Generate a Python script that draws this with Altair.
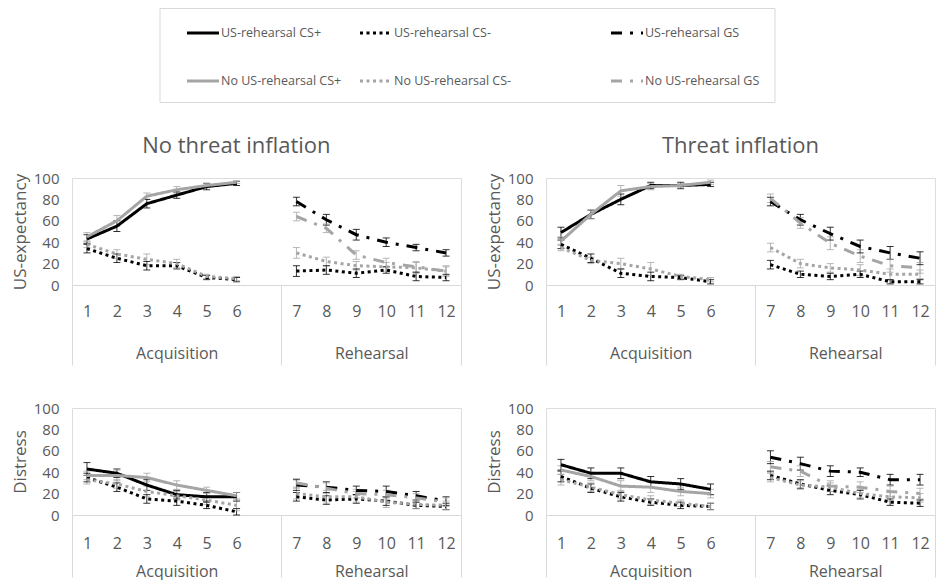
import altair as alt
import pandas as pd

FONT = "Open Sans"
TXT = "#595959"
RULE = "#d9d9d9"
BLACK = "#000000"
GRAY = "#a5a5a5"

GROUPS = ["US-rehearsal", "No US-rehearsal"]
STIMS = ["CS+", "CS-", "GS"]
ACQ_TRIALS = [1, 2, 3, 4, 5, 6]
REH_TRIALS = [7, 8, 9, 10, 11, 12]
CSM_TRIALS = ACQ_TRIALS + REH_TRIALS
Y_TICKS = [0, 20, 40, 60, 80, 100]
PHASES = ["Acquisition", "Rehearsal"]
COL_TITLES = ["No threat inflation", "Threat inflation"]
ROW_TITLES = ["US-expectancy", "Distress"]
LEGEND_LABELS = [
    ["US-rehearsal  CS+", "US-rehearsal CS-", "US-rehearsal GS"],
    ["No US-rehearsal CS+", "No US-rehearsal CS-", "No US-rehearsal  GS"],
]

# ---- US-expectancy, No threat inflation ----
exp_nt_us_csp = [43, 55, 76, 84, 92, 95]
exp_nt_no_csp = [45, 60, 83, 89, 93, 96]
exp_nt_us_csm = [34, 25, 18, 18, 7, 5, 13, 14, 11, 14, 8, 7]
exp_nt_no_csm = [38, 29, 24, 20, 8, 6, 30, 22, 18, 17, 16, 13]
exp_nt_us_gs = [78, 61, 47, 40, 35, 30]
exp_nt_no_gs = [64, 53, 28, 21, 17, 13]
exp_nt_us_csp_e = [4, 5, 4, 3, 3, 2]
exp_nt_no_csp_e = [4, 5, 3, 3, 2, 1]
exp_nt_us_csm_e = [4, 4, 4, 3, 2, 2, 5, 4, 4, 3, 4, 3]
exp_nt_no_csm_e = [3, 4, 5, 4, 2, 2, 5, 4, 4, 4, 5, 4]
exp_nt_us_gs_e = [4, 5, 5, 4, 3, 3]
exp_nt_no_gs_e = [4, 4, 4, 4, 5, 5]

# ---- US-expectancy, Threat inflation ----
exp_t_us_csp = [49, 66, 80, 93, 93, 94]
exp_t_no_csp = [41, 66, 88, 92, 93, 96]
exp_t_us_csm = [38, 25, 11, 8, 7, 3, 19, 10, 8, 10, 3, 3]
exp_t_no_csm = [35, 23, 20, 15, 8, 5, 35, 20, 16, 14, 10, 10]
exp_t_us_gs = [78, 61, 48, 36, 30, 25]
exp_t_no_gs = [81, 58, 39, 27, 18, 16]
exp_t_us_csp_e = [5, 4, 5, 3, 3, 2]
exp_t_no_csp_e = [4, 4, 5, 3, 2, 2]
exp_t_us_csm_e = [4, 4, 4, 4, 2, 2, 4, 3, 3, 3, 2, 2]
exp_t_no_csm_e = [3, 3, 5, 6, 2, 2, 4, 4, 4, 5, 5, 4]
exp_t_us_gs_e = [4, 5, 6, 6, 6, 6]
exp_t_no_gs_e = [4, 5, 6, 6, 6, 5]

# ---- Distress, No threat inflation ----
dis_nt_us_csp = [43, 39, 28, 19, 17, 17]
dis_nt_no_csp = [37, 37, 35, 28, 23, 18]
dis_nt_us_csm = [35, 26, 15, 13, 9, 3, 17, 14, 15, 13, 9, 8]
dis_nt_no_csm = [33, 29, 22, 18, 14, 9, 20, 17, 17, 12, 10, 9]
dis_nt_us_gs = [28, 26, 23, 22, 18, 13]
dis_nt_no_gs = [30, 25, 20, 19, 16, 12]
dis_nt_us_csp_e = [6, 4, 5, 4, 4, 4]
dis_nt_no_csp_e = [4, 5, 4, 4, 3, 3]
dis_nt_us_csm_e = [4, 4, 4, 4, 3, 3, 4, 4, 4, 4, 3, 3]
dis_nt_no_csm_e = [4, 4, 5, 4, 4, 5, 5, 6, 5, 5, 4, 4]
dis_nt_us_gs_e = [5, 5, 4, 5, 4, 4]
dis_nt_no_gs_e = [4, 5, 4, 4, 4, 4]

# ---- Distress, Threat inflation ----
dis_t_us_csp = [47, 39, 39, 31, 29, 24]
dis_t_no_csp = [42, 36, 27, 26, 22, 20]
dis_t_us_csm = [36, 25, 17, 12, 9, 8, 37, 29, 23, 19, 12, 11]
dis_t_no_csm = [33, 26, 19, 14, 11, 8, 35, 28, 26, 20, 17, 16]
dis_t_us_gs = [54, 48, 41, 40, 33, 33]
dis_t_no_gs = [45, 41, 27, 26, 22, 20]
dis_t_us_csp_e = [5, 5, 5, 5, 5, 5]
dis_t_no_csp_e = [4, 4, 5, 5, 4, 4]
dis_t_us_csm_e = [5, 4, 4, 3, 3, 3, 4, 4, 4, 4, 3, 3]
dis_t_no_csm_e = [5, 4, 4, 4, 3, 3, 4, 4, 4, 4, 4, 4]
dis_t_us_gs_e = [6, 6, 5, 4, 5, 5]
dis_t_no_gs_e = [5, 5, 5, 5, 5, 5]

# ---- styles / layout ----
DASHES = [[1, 0], [3, 3.5], [11, 8, 3, 8]]
PW, PH = 389, 107


def series_rows(group, stim, trials, vals, errs):
    rows = []
    for t, v, e in zip(trials, vals, errs):
        phase = PHASES[0] if t <= 6 else PHASES[1]
        rows.append(dict(group=group, stim=stim, trial=t,
                         pos=t if t <= 6 else t + 1,
                         val=v, lo=max(v - e, 0), hi=min(v + e, 100),
                         seg=f"{group}|{stim}|{phase}"))
    return rows


def panel_df(us_csp, us_csm, us_gs, no_csp, no_csm, no_gs,
             us_csp_e, us_csm_e, us_gs_e, no_csp_e, no_csm_e, no_gs_e):
    rows = []
    rows += series_rows(GROUPS[0], STIMS[0], ACQ_TRIALS, us_csp, us_csp_e)
    rows += series_rows(GROUPS[0], STIMS[1], CSM_TRIALS, us_csm, us_csm_e)
    rows += series_rows(GROUPS[0], STIMS[2], REH_TRIALS, us_gs, us_gs_e)
    rows += series_rows(GROUPS[1], STIMS[0], ACQ_TRIALS, no_csp, no_csp_e)
    rows += series_rows(GROUPS[1], STIMS[1], CSM_TRIALS, no_csm, no_csm_e)
    rows += series_rows(GROUPS[1], STIMS[2], REH_TRIALS, no_gs, no_gs_e)
    return pd.DataFrame(rows)


def make_panel(df, ytitle, title, title_frame, tick_pad, grp_pad, box_len):
    xs = alt.Scale(domain=[0.5, 13.5], nice=False, zero=False)
    ys = alt.Scale(domain=[0, 100], nice=False)
    color = alt.Color("group:N", scale=alt.Scale(domain=GROUPS, range=[BLACK, GRAY]), legend=None)
    dash = alt.StrokeDash("stim:N", scale=alt.Scale(domain=STIMS, range=DASHES), legend=None)
    y_axis = alt.Axis(orient="left", values=Y_TICKS, grid=False, domain=False, ticks=False,
                      labelFont=FONT, labelFontSize=15, labelColor=TXT, labelPadding=13,
                      title=ytitle, titleFont=FONT, titleFontSize=17, titleFontWeight="normal",
                      titleColor=TXT, titlePadding=4)
    ax_num = alt.Axis(orient="bottom", values=[1, 2, 3, 4, 5, 6, 8, 9, 10, 11, 12, 13],
                      labelExpr="datum.value <= 6 ? datum.value : datum.value - 1",
                      ticks=False, domain=True, domainColor=RULE, domainWidth=1, grid=False,
                      labelFont=FONT, labelFontSize=16, labelColor=TXT, labelPadding=tick_pad,
                      labelFlush=False, labelOverlap=False, labelBound=False, title=None)
    ax_box = alt.Axis(orient="bottom", values=[0.5, 7.5, 13.5], labels=False, ticks=True,
                      tickSize=box_len, tickColor=RULE, tickWidth=1, domain=False, grid=False,
                      title=None)
    ax_grp = alt.Axis(orient="bottom", values=[4, 10.5],
                      labelExpr=f"datum.value < 7 ? '{PHASES[0]}' : '{PHASES[1]}'",
                      ticks=False, domain=False, grid=False,
                      labelFont=FONT, labelFontSize=16, labelColor=TXT, labelPadding=grp_pad,
                      labelFlush=False, labelOverlap=False, labelBound=False, title=None)

    caps_df = pd.concat([df.assign(cap=df["lo"]), df.assign(cap=df["hi"])], ignore_index=True)

    bars = alt.Chart(df).mark_rule(strokeWidth=1, opacity=0.8).encode(
        x=alt.X("pos:Q", scale=xs, axis=ax_box),
        y=alt.Y("lo:Q", scale=ys, axis=y_axis),
        y2="hi:Q",
        color=color,
    )
    caps = alt.Chart(caps_df).mark_tick(orient="horizontal", size=7, thickness=1, opacity=0.8).encode(
        x=alt.X("pos:Q", scale=xs, axis=ax_grp),
        y=alt.Y("cap:Q", scale=ys, axis=y_axis),
        color=color,
    )
    lines = alt.Chart(df).mark_line(strokeWidth=3).encode(
        x=alt.X("pos:Q", scale=xs, axis=ax_num),
        y=alt.Y("val:Q", scale=ys, axis=y_axis),
        color=color,
        strokeDash=dash,
        detail="seg:N",
        order="pos:Q",
    )
    layer = alt.layer(bars, caps, lines).resolve_axis(x="independent").properties(width=PW, height=PH)
    if title:
        layer = layer.properties(title=alt.Title(title, font=FONT, fontSize=22, fontWeight="normal",
                                                 color=TXT, anchor="middle", frame=title_frame,
                                                 offset=13))
    return layer


df_exp_nt = panel_df(exp_nt_us_csp, exp_nt_us_csm, exp_nt_us_gs, exp_nt_no_csp, exp_nt_no_csm, exp_nt_no_gs,
                     exp_nt_us_csp_e, exp_nt_us_csm_e, exp_nt_us_gs_e, exp_nt_no_csp_e, exp_nt_no_csm_e, exp_nt_no_gs_e)
df_exp_t = panel_df(exp_t_us_csp, exp_t_us_csm, exp_t_us_gs, exp_t_no_csp, exp_t_no_csm, exp_t_no_gs,
                    exp_t_us_csp_e, exp_t_us_csm_e, exp_t_us_gs_e, exp_t_no_csp_e, exp_t_no_csm_e, exp_t_no_gs_e)
df_dis_nt = panel_df(dis_nt_us_csp, dis_nt_us_csm, dis_nt_us_gs, dis_nt_no_csp, dis_nt_no_csm, dis_nt_no_gs,
                     dis_nt_us_csp_e, dis_nt_us_csm_e, dis_nt_us_gs_e, dis_nt_no_csp_e, dis_nt_no_csm_e, dis_nt_no_gs_e)
df_dis_t = panel_df(dis_t_us_csp, dis_t_us_csm, dis_t_us_gs, dis_t_no_csp, dis_t_no_csm, dis_t_no_gs,
                    dis_t_us_csp_e, dis_t_us_csm_e, dis_t_us_gs_e, dis_t_no_csp_e, dis_t_no_csm_e, dis_t_no_gs_e)

tl = make_panel(df_exp_nt, ROW_TITLES[0], COL_TITLES[0], "bounds", 18, 60, 80)
tr = make_panel(df_exp_t, ROW_TITLES[0], COL_TITLES[1], "group", 18, 60, 80)
bl = make_panel(df_dis_nt, ROW_TITLES[1], None, None, 20, 48, 62)
br = make_panel(df_dis_t, ROW_TITLES[1], None, None, 20, 48, 62)

# ---- legend (custom, boxed; pixel layout inside the legend view) ----
LEG_W, LEG_H = 800, 95
LEG_BOX = (88, 703, 0.5, 94.5)
LEG_COL_X = [115, 288, 539]
LEG_ROW_Y = [25, 73]
LEG_SAMPLE = 32
leg_rows = []
for gi, g in enumerate(GROUPS):
    for si, s in enumerate(STIMS):
        leg_rows.append(dict(group=g, stim=s, label=LEGEND_LABELS[gi][si],
                             x0=LEG_COL_X[si], x1=LEG_COL_X[si] + LEG_SAMPLE,
                             tx=LEG_COL_X[si] + LEG_SAMPLE + 2, y=LEG_ROW_Y[gi]))
leg_df = pd.DataFrame(leg_rows)
box_df = pd.DataFrame([dict(bx0=LEG_BOX[0], bx1=LEG_BOX[1], by0=LEG_BOX[2], by1=LEG_BOX[3])])
leg_color = alt.Color("group:N", scale=alt.Scale(domain=GROUPS, range=[BLACK, GRAY]), legend=None)
leg_dash = alt.StrokeDash("stim:N", scale=alt.Scale(domain=STIMS, range=DASHES), legend=None)
leg_box = alt.Chart(box_df).mark_rect(fill="transparent", stroke=RULE, strokeWidth=1).encode(
    x=alt.X("bx0:Q", scale=None, axis=None), x2="bx1:Q",
    y=alt.Y("by0:Q", scale=None, axis=None), y2="by1:Q",
)
leg_lines = alt.Chart(leg_df).mark_rule(strokeWidth=3).encode(
    x=alt.X("x0:Q", scale=None, axis=None), x2="x1:Q",
    y=alt.Y("y:Q", scale=None, axis=None),
    color=leg_color, strokeDash=leg_dash,
)
leg_text = alt.Chart(leg_df).mark_text(align="left", baseline="middle", font=FONT, fontSize=12.5,
                                        color=TXT).encode(
    x=alt.X("tx:Q", scale=None, axis=None),
    y=alt.Y("y:Q", scale=None, axis=None),
    text="label:N",
)
legend = alt.layer(leg_box, leg_lines, leg_text).properties(
    width=LEG_W, height=LEG_H, view=alt.ViewBackground(stroke="transparent", strokeWidth=0))

row1 = alt.hconcat(tl, tr, spacing=22)
row2 = alt.hconcat(bl, br, spacing=22)
body = alt.vconcat(row1, row2, spacing=34)
chart = alt.vconcat(legend, body, spacing=31).properties(
    padding={"left": 2, "top": 0, "right": 0, "bottom": 0}
).configure_view(strokeWidth=0).configure(font=FONT)

chart.save("out.html", embed_options={"renderer": "svg", "actions": False})
